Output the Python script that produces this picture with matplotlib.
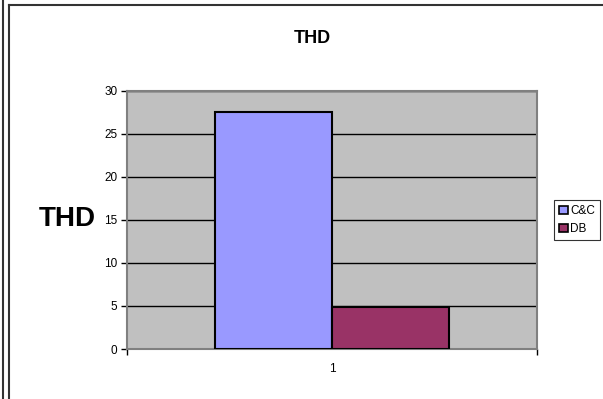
import matplotlib
matplotlib.use("Agg")
import matplotlib.pyplot as plt
from matplotlib.lines import Line2D

plt.rcParams['font.family'] = ['Liberation Sans', 'DejaVu Sans']

series = ["C&C", "DB"]
values = [27.5, 4.85]
colors = ["#9999FF", "#993366"]
categories = ["1"]

W, H = 603, 399
fig = plt.figure(figsize=(W / 100, H / 100), dpi=100)

# plot area in pixel coords
left, right, top, bottom = 127, 537, 90.5, 349
ax = fig.add_axes([left / W, 1 - bottom / H, (right - left) / W, (bottom - top) / H])
ax.set_facecolor("#C0C0C0")

bw = 0.285
for i, (name, v, c) in enumerate(zip(series, values, colors)):
    ax.bar(1 + (i - 0.5) * bw, v, width=bw, color=c, edgecolor="black",
           linewidth=1.5, label=name, zorder=3)

ax.set_xlim(0.5, 1.5)
ax.set_ylim(0, 30)
ax.set_yticks(range(0, 31, 5))
ax.set_xticks([1])
ax.set_xticklabels(categories)
ax.set_xticks([0.5, 1.5], minor=True)
ax.tick_params(axis="x", which="major", length=0, pad=10, labelsize=8.5)
ax.tick_params(axis="x", which="minor", length=4, width=1, color="black")
ax.tick_params(axis="y", length=4, width=1, pad=3, labelsize=8.5)
ax.yaxis.grid(True, color="black", linewidth=1, zorder=1)
ax.set_axisbelow(True)

for s in ["top", "right", "left", "bottom"]:
    ax.spines[s].set_color("#808080")
    ax.spines[s].set_linewidth(1.5)

fig.text(312 / W, 1 - 38.5 / H, "THD", ha="center", va="center",
         fontsize=13, fontweight="bold")
fig.text(67.5 / W, 1 - 219 / H, "THD", ha="center", va="center",
         fontsize=20, fontweight="bold")

leg = ax.legend(loc="center left", bbox_to_anchor=(554 / W, 1 - 220 / H),
                bbox_transform=fig.transFigure, fontsize=8.5, frameon=True,
                fancybox=False, edgecolor="black", handlelength=0.7,
                handleheight=0.7, handletextpad=0.2, borderpad=0.45,
                labelspacing=0.5, borderaxespad=0)
leg.get_frame().set_linewidth(0.8)
for h in leg.legend_handles:
    h.set_linewidth(1.2)

# outer frame lines
fig.add_artist(Line2D([3 / W, 3 / W], [0, 1], color="#333333", linewidth=1.5,
                      transform=fig.transFigure))
fig.add_artist(Line2D([9 / W, 9 / W], [0, 1 - 5 / H], color="#333333",
                      linewidth=1.5, transform=fig.transFigure))
fig.add_artist(Line2D([9 / W, 1], [1 - 5 / H, 1 - 5 / H], color="#333333",
                      linewidth=1.5, transform=fig.transFigure))

fig.savefig("out.png", dpi=100)
